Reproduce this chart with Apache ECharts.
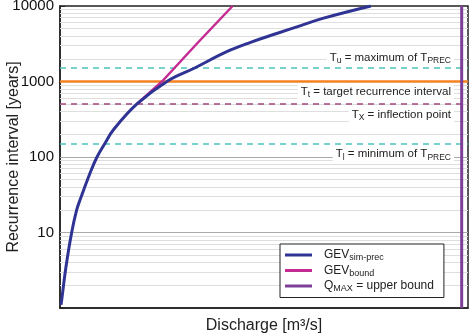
<!DOCTYPE html>
<html>
<head>
<meta charset="utf-8">
<script src="https://cdn.jsdelivr.net/npm/echarts@6/dist/echarts.min.js"></script>
<style>
  html, body { margin: 0; padding: 0; background: #fff; }
  #chart { width: 473px; height: 334px; }
</style>
</head>
<body>
<div id="chart"></div>
<script>
// discharge in arbitrary units (axis has no labels), recurrence interval in years
const simQ = [0.25, 0.42, 1.47, 2.87, 4.09, 4.90, 7.35, 9.07, 11.03, 13.06, 18.87, 26.3, 33.0, 41.0, 46.7, 53.3, 59.0, 64.6, 76.2];
const simT = [1.1, 1.28, 3.52, 10.1, 19.9, 26.9, 61, 100, 152, 228, 504, 1010, 1510, 2500, 3300, 4350, 5500, 6900, 10000];

const boundQ = [18.87, 25.0, 33.7, 42.3];
const boundT = [504, 1000, 3236, 10000];

const qMax = 98.45;

// horizontal reference intervals
const refT = [1500, 1000, 500, 150];
const refText = [
  '{b|T}{s|u}{b| = maximum of T}{s|PREC}',
  '{b|T}{s|t}{b| = target recurrence interval}',
  '{b|T}{s|X}{b| = inflection point}',
  '{b|T}{s|l}{b| = minimum of T}{s|PREC}'
];

const yTicks = [1, 10, 100, 1000, 10000];

const legendText = {
  'GEV_sim-prec': '{b|GEV}{s|sim-prec}',
  'GEV_bound': '{b|GEV}{s|bound}',
  'Q_MAX': '{b|Q}{s|MAX}{b| = upper bound}'
};

const subRich = {
  b: { fontSize: 11.5, lineHeight: 15, color: '#222', fontFamily: 'Liberation Sans' },
  s: { fontSize: 8.5, lineHeight: 9, color: '#222', verticalAlign: 'bottom', fontFamily: 'Liberation Sans' }
};
const legendRich = {
  b: { fontSize: 12, lineHeight: 15, color: '#222', fontFamily: 'Liberation Sans' },
  s: { fontSize: 9, lineHeight: 9, color: '#222', verticalAlign: 'bottom', fontFamily: 'Liberation Sans' }
};

// log grid: minor lines 2..9 x 10^n, major lines at inner decades
const minorT = [];
for (let d = 1; d < 10000; d *= 10) {
  for (let k = 2; k <= 9; k++) minorT.push(k * d);
}
const majorT = yTicks.slice(1, -1);

const chart = echarts.init(document.getElementById('chart'));

const refStyles = [
  { color: '#4cc3bb', width: 1.5, type: [6, 5], pos: 'insideEndTop' },
  { color: '#f58220', width: 2.5, type: 'solid', pos: 'insideEndBottom' },
  { color: '#a3477f', width: 1.5, type: [6, 5], pos: 'insideEndBottom' },
  { color: '#4cc3bb', width: 1.5, type: [6, 5], pos: 'insideEndBottom' }
];

const option = {
  animation: false,
  textStyle: { fontFamily: 'Liberation Sans' },
  grid: {
    left: 60, right: 5, top: 6, bottom: 26,
    outerBoundsMode: 'none',
    containLabel: false,
    show: true, borderColor: '#222', borderWidth: 1.5
  },
  xAxis: {
    type: 'value',
    min: 0, max: 100,
    name: 'Discharge [m³/s]',
    nameLocation: 'middle',
    nameGap: 10,
    nameMoveOverlap: false,
    nameTextStyle: { fontSize: 16, color: '#222' },
    axisLine: { lineStyle: { color: '#222', width: 1.5 } },
    axisTick: { show: false },
    axisLabel: { show: false },
    splitLine: { show: false }
  },
  yAxis: {
    type: 'log',
    logBase: 10,
    min: 1, max: 10000,
    name: 'Recurrence interval [years]',
    nameLocation: 'middle',
    nameGap: 38,
    nameMoveOverlap: false,
    nameTextStyle: { fontSize: 16, color: '#222' },
    axisLine: { show: true, lineStyle: { color: '#222', width: 1.5 } },
    axisTick: { show: true, inside: true, length: 5, lineStyle: { color: '#222' } },
    axisLabel: {
      fontSize: 15, color: '#111', margin: 6,
      formatter: v => (v === yTicks[0] ? '' : String(v))
    },
    splitLine: { show: false }
  },
  legend: {
    data: ['GEV_sim-prec', 'GEV_bound', 'Q_MAX'],
    orient: 'vertical',
    left: 280, top: 244,
    z: 20,
    padding: [5, 10, 4, 5],
    itemGap: 2,
    itemWidth: 27, itemHeight: 3,
    icon: 'rect',
    backgroundColor: '#fff',
    borderColor: '#222', borderWidth: 1,
    borderRadius: 0,
    formatter: name => legendText[name],
    textStyle: { padding: [0, 0, 0, 7], rich: legendRich }
  },
  series: [
    {
      name: 'grid',
      type: 'line',
      data: [],
      silent: true,
      z: 1,
      markLine: {
        silent: true,
        z: 1,
        symbol: ['none', 'none'],
        label: { show: false },
        lineStyle: { color: '#dedede', width: 1, type: 'solid' },
        data: minorT.map(v => ({ yAxis: v })).concat(
          majorT.map(v => ({ yAxis: v, lineStyle: { color: '#aaa', width: 1, type: 'solid' } }))
        )
      }
    },
    {
      name: 'refs',
      type: 'line',
      data: [],
      silent: true,
      z: 2,
      markLine: {
        silent: true,
        z: 2,
        symbol: ['none', 'none'],
        data: refT.map((v, i) => ({
          yAxis: v,
          lineStyle: { color: refStyles[i].color, width: refStyles[i].width, type: refStyles[i].type },
          label: {
            show: true,
            position: refStyles[i].pos,
            distance: [14, 3],
            formatter: refText[i],
            backgroundColor: '#fff',
            padding: [0, 3],
            rich: subRich
          }
        }))
      }
    },
    {
      name: 'GEV_bound',
      type: 'line',
      smooth: false,
      showSymbol: false,
      color: '#c42b93',
      lineStyle: { width: 2.5, color: '#c42b93', type: 'solid' },
      z: 4,
      data: boundQ.map((q, i) => [q, boundT[i]])
    },
    {
      name: 'GEV_sim-prec',
      type: 'line',
      smooth: 0.4,
      showSymbol: false,
      color: '#2f3494',
      lineStyle: { width: 3, color: '#2f3494', type: 'solid' },
      z: 5,
      data: simQ.map((q, i) => [q, simT[i]])
    },
    {
      name: 'Q_MAX',
      type: 'line',
      showSymbol: false,
      color: '#7e3f98',
      lineStyle: { width: 3, color: '#7e3f98', type: 'solid' },
      z: 5,
      data: [[qMax, yTicks[0]], [qMax, yTicks[yTicks.length - 1]]]
    }
  ]
};

chart.setOption(option);
</script>
</body>
</html>
